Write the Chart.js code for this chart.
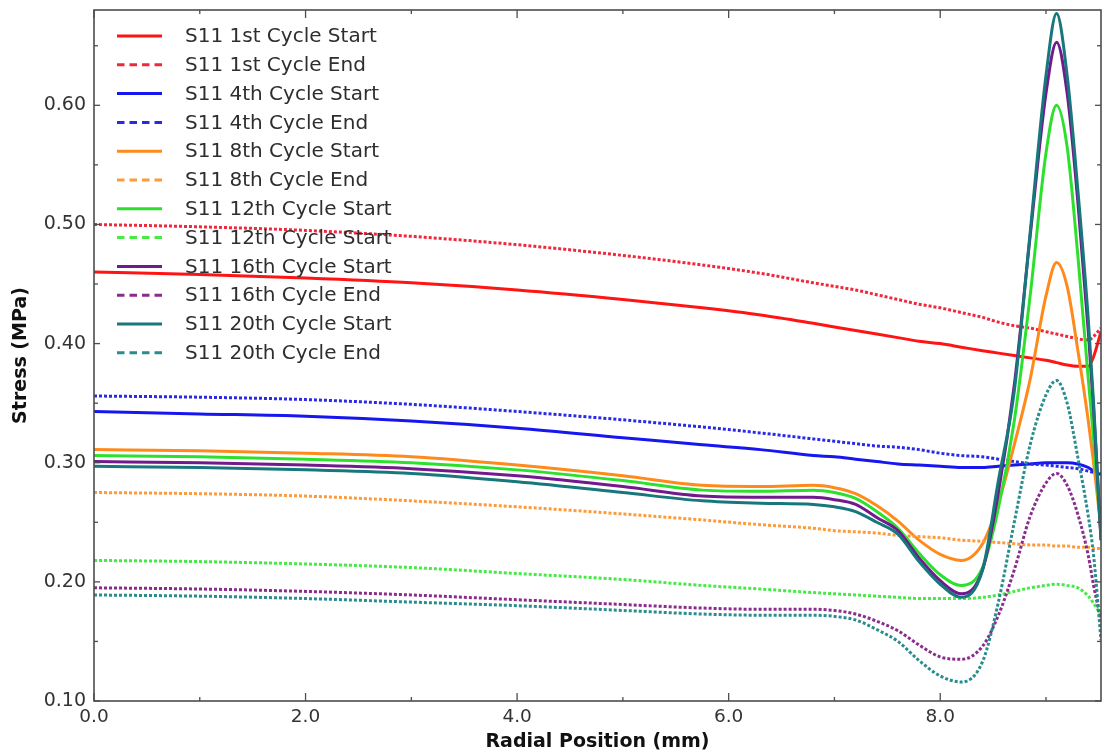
<!DOCTYPE html>
<html>
<head>
<meta charset="utf-8">
<title>S11 Stress vs Radial Position</title>
<script src="https://cdn.jsdelivr.net/npm/chart.js@4.4.1/dist/chart.umd.min.js"></script>
<style>
  html, body { margin: 0; padding: 0; background: #ffffff; }
  #wrap { width: 1102px; height: 755px; }
</style>
</head>
<body>
<div id="wrap"><canvas id="c" width="1102" height="755"></canvas></div>
<script>
// Radial position along the specimen (mm), shared by every series
const radialPosition = [0, 1, 2, 3, 4, 5, 5.75, 6.3, 6.8, 7.0, 7.2, 7.4, 7.6, 7.8, 8.0, 8.2, 8.4, 8.55, 8.7, 8.85, 9.0, 9.1, 9.2, 9.3, 9.4, 9.45, 9.52];

// S11 stress (MPa) at the start and end of each loading cycle
const cycle1Start  = [0.460, 0.458, 0.455, 0.451, 0.445, 0.437, 0.430, 0.424, 0.417, 0.414, 0.411, 0.408, 0.405, 0.402, 0.400, 0.397, 0.394, 0.392, 0.390, 0.388, 0.386, 0.384, 0.382, 0.381, 0.381, 0.389, 0.410];
const cycle1End    = [0.500, 0.498, 0.495, 0.490, 0.483, 0.474, 0.466, 0.459, 0.451, 0.448, 0.445, 0.441, 0.437, 0.433, 0.430, 0.426, 0.422, 0.418, 0.415, 0.413, 0.410, 0.408, 0.406, 0.404, 0.403, 0.406, 0.413];
const cycle4Start  = [0.343, 0.341, 0.339, 0.335, 0.329, 0.321, 0.315, 0.311, 0.306, 0.305, 0.303, 0.301, 0.299, 0.298, 0.297, 0.296, 0.296, 0.297, 0.298, 0.299, 0.300, 0.300, 0.300, 0.299, 0.296, 0.293, 0.290];
const cycle4End    = [0.356, 0.355, 0.353, 0.349, 0.343, 0.336, 0.330, 0.325, 0.320, 0.318, 0.316, 0.314, 0.313, 0.311, 0.308, 0.306, 0.305, 0.303, 0.301, 0.299, 0.298, 0.297, 0.296, 0.295, 0.293, 0.292, 0.291];
const cycle8Start  = [0.311, 0.310, 0.308, 0.305, 0.298, 0.289, 0.281, 0.280, 0.281, 0.279, 0.274, 0.264, 0.251, 0.235, 0.223, 0.218, 0.232, 0.266, 0.315, 0.370, 0.440, 0.468, 0.448, 0.395, 0.335, 0.300, 0.245];
const cycle8End    = [0.275, 0.274, 0.272, 0.268, 0.263, 0.257, 0.252, 0.248, 0.245, 0.243, 0.242, 0.241, 0.239, 0.238, 0.237, 0.235, 0.234, 0.233, 0.232, 0.231, 0.231, 0.230, 0.230, 0.229, 0.229, 0.228, 0.228];
const cycle12Start = [0.306, 0.305, 0.303, 0.300, 0.294, 0.285, 0.277, 0.276, 0.277, 0.275, 0.270, 0.259, 0.245, 0.224, 0.206, 0.197, 0.212, 0.262, 0.335, 0.440, 0.560, 0.600, 0.565, 0.475, 0.370, 0.320, 0.240];
const cycle12End   = [0.218, 0.217, 0.215, 0.212, 0.207, 0.202, 0.197, 0.194, 0.191, 0.190, 0.189, 0.188, 0.187, 0.186, 0.186, 0.186, 0.187, 0.189, 0.192, 0.195, 0.197, 0.198, 0.197, 0.195, 0.188, 0.182, 0.172];
const cycle16Start = [0.301, 0.300, 0.298, 0.295, 0.289, 0.280, 0.272, 0.271, 0.271, 0.269, 0.265, 0.254, 0.243, 0.220, 0.201, 0.190, 0.210, 0.275, 0.365, 0.490, 0.610, 0.653, 0.610, 0.520, 0.410, 0.345, 0.235];
const cycle16End   = [0.195, 0.194, 0.192, 0.189, 0.185, 0.181, 0.178, 0.177, 0.177, 0.176, 0.173, 0.167, 0.159, 0.147, 0.137, 0.135, 0.146, 0.172, 0.210, 0.255, 0.283, 0.291, 0.281, 0.257, 0.222, 0.197, 0.168];
const cycle20Start = [0.297, 0.296, 0.294, 0.291, 0.284, 0.275, 0.268, 0.266, 0.265, 0.263, 0.259, 0.250, 0.240, 0.217, 0.198, 0.187, 0.210, 0.285, 0.360, 0.493, 0.625, 0.677, 0.625, 0.530, 0.420, 0.350, 0.235];
const cycle20End   = [0.189, 0.188, 0.186, 0.183, 0.180, 0.176, 0.173, 0.172, 0.172, 0.171, 0.168, 0.160, 0.150, 0.134, 0.121, 0.116, 0.133, 0.183, 0.250, 0.315, 0.357, 0.369, 0.350, 0.305, 0.255, 0.222, 0.151];

const seriesLabels = [
  'S11 1st Cycle Start', 'S11 1st Cycle End',
  'S11 4th Cycle Start', 'S11 4th Cycle End',
  'S11 8th Cycle Start', 'S11 8th Cycle End',
  'S11 12th Cycle Start', 'S11 12th Cycle Start',
  'S11 16th Cycle Start', 'S11 16th Cycle End',
  'S11 20th Cycle Start', 'S11 20th Cycle End'
];
const seriesValues = [
  cycle1Start, cycle1End, cycle4Start, cycle4End, cycle8Start, cycle8End,
  cycle12Start, cycle12End, cycle16Start, cycle16End, cycle20Start, cycle20End
];

// Axis tick values
const xMajorTicks = [0, 2, 4, 6, 8];
const xMinorTicks = [1, 3, 5, 7, 9];
const yMajorTicks = [0.10, 0.20, 0.30, 0.40, 0.50, 0.60];
const yMinorTicks = [0.15, 0.25, 0.35, 0.45, 0.55, 0.65];

// Line styling per series (solid = cycle start, dotted = cycle end)
const seriesColors = [
  '#ff1414', '#f0283c',
  '#1616f0', '#2a2ae6',
  '#ff8a1c', '#ff9a3a',
  '#2ee02e', '#45ea45',
  '#701a8c', '#8a2c8c',
  '#17777c', '#2a8c8c'
];
const dottedSeries = [false, true, false, true, false, true, false, true, false, true, false, true];

const datasets = seriesValues.map((vals, i) => ({
  label: seriesLabels[i],
  data: radialPosition.map((x, k) => ({ x: x, y: vals[k] })),
  borderColor: seriesColors[i],
  backgroundColor: seriesColors[i],
  borderWidth: 3,
  borderDash: dottedSeries[i] ? [3, 2] : [],
  pointRadius: 0,
  fill: false,
  cubicInterpolationMode: 'monotone',
  order: seriesValues.length - i
}));

// Frame with inward major/minor ticks on all four sides
const frameTicks = {
  id: 'frameTicks',
  afterDatasetsDraw(chart) {
    const { ctx, chartArea: a, scales: { x, y } } = chart;
    ctx.save();
    ctx.strokeStyle = '#4d4d4d';
    ctx.lineWidth = 1.6;
    ctx.setLineDash([]);
    ctx.strokeRect(a.left, a.top, a.right - a.left, a.bottom - a.top);
    ctx.lineWidth = 1.3;
    const tick = (x1, y1, x2, y2) => { ctx.beginPath(); ctx.moveTo(x1, y1); ctx.lineTo(x2, y2); ctx.stroke(); };
    yMajorTicks.forEach(v => { const p = y.getPixelForValue(v); tick(a.left, p, a.left + 6, p); tick(a.right, p, a.right - 6, p); });
    yMinorTicks.forEach(v => { const p = y.getPixelForValue(v); tick(a.left, p, a.left + 4, p); tick(a.right, p, a.right - 4, p); });
    xMajorTicks.forEach(v => { const p = x.getPixelForValue(v); tick(p, a.bottom, p, a.bottom - 8); tick(p, a.top, p, a.top + 8); });
    xMinorTicks.forEach(v => { const p = x.getPixelForValue(v); tick(p, a.bottom, p, a.bottom - 4); tick(p, a.top, p, a.top + 4); });
    ctx.restore();
  }
};

// Legend listed inside the plot, top-left, one series per row
const innerLegend = {
  id: 'innerLegend',
  afterDraw(chart) {
    const { ctx } = chart;
    const x0 = 117, lineLen = 45, textX = 185, y0 = 36, rowH = 28.8;
    ctx.save();
    ctx.font = '20px "DejaVu Sans", sans-serif';
    ctx.textBaseline = 'middle';
    ctx.textAlign = 'left';
    chart.data.datasets.forEach((ds, i) => {
      const yy = y0 + i * rowH;
      ctx.strokeStyle = ds.borderColor;
      ctx.lineWidth = 3;
      ctx.setLineDash(dottedSeries[i] ? [7.5, 5] : []);
      ctx.beginPath();
      ctx.moveTo(x0, yy);
      ctx.lineTo(x0 + lineLen, yy);
      ctx.stroke();
      ctx.setLineDash([]);
      ctx.fillStyle = '#2e2e2e';
      ctx.fillText(ds.label, textX, yy + 1);
    });
    ctx.restore();
  }
};

new Chart(document.getElementById('c'), {
  type: 'line',
  data: { datasets: datasets },
  options: {
    responsive: false,
    animation: false,
    layout: { padding: { top: 10, right: 1, left: 0, bottom: 0 } },
    plugins: {
      legend: { display: false },
      tooltip: { enabled: false }
    },
    scales: {
      x: {
        type: 'linear',
        min: 0,
        max: 9.52,
        afterBuildTicks: s => { s.ticks = xMajorTicks.map(v => ({ value: v })); },
        afterFit: s => { s.height = 54; s.paddingLeft = 0; s.paddingRight = 0; },
        grid: { display: false, drawTicks: false },
        border: { display: false },
        ticks: {
          padding: 5,
          color: '#333333',
          font: { family: '"DejaVu Sans", sans-serif', size: 18.5 },
          callback: v => Number(v).toFixed(1)
        },
        title: {
          display: true,
          text: 'Radial Position (mm)',
          color: '#111111',
          font: { family: '"DejaVu Sans", sans-serif', size: 19, weight: 'bold' },
          padding: { top: 0, bottom: 2 }
        }
      },
      y: {
        type: 'linear',
        min: 0.10,
        max: 0.68,
        afterBuildTicks: s => { s.ticks = yMajorTicks.map(v => ({ value: v })); },
        afterFit: s => { s.width = 94; s.paddingTop = 0; s.paddingBottom = 0; },
        grid: { display: false, drawTicks: false },
        border: { display: false },
        ticks: {
          padding: 8,
          color: '#333333',
          font: { family: '"DejaVu Sans", sans-serif', size: 19 },
          callback: v => Number(v).toFixed(2)
        },
        title: {
          display: true,
          text: 'Stress (MPa)',
          color: '#111111',
          font: { family: '"DejaVu Sans", sans-serif', size: 19, weight: 'bold' },
          padding: { top: 10, bottom: 0 }
        }
      }
    }
  },
  plugins: [frameTicks, innerLegend]
});
</script>
</body>
</html>
